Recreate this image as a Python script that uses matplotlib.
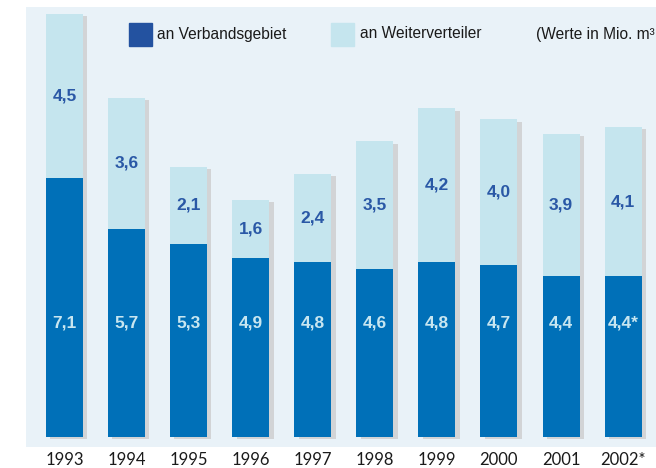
import matplotlib
matplotlib.use("Agg")
import matplotlib.pyplot as plt
from matplotlib.patches import Rectangle
from matplotlib import font_manager

# data (Mio. m3)
years = ["1993", "1994", "1995", "1996", "1997", "1998", "1999", "2000", "2001", "2002*"]
verbandsgebiet = [7.1, 5.7, 5.3, 4.9, 4.8, 4.6, 4.8, 4.7, 4.4, 4.4]
weiterverteiler = [4.5, 3.6, 2.1, 1.6, 2.4, 3.5, 4.2, 4.0, 3.9, 4.1]
dark_labels = ["7,1", "5,7", "5,3", "4,9", "4,8", "4,6", "4,8", "4,7", "4,4", "4,4*"]
light_labels = ["4,5", "3,6", "2,1", "1,6", "2,4", "3,5", "4,2", "4,0", "3,9", "4,1"]

dark = "#0070b8"
light = "#c5e5ee"
bg = "#e9f2f8"
shadow = "#d2d4d6"
legend_dark = "#2352a0"
label_blue = "#2a58a6"
label_light = "#c8e6f0"

names = {f.name for f in font_manager.fontManager.ttflist}
narrow = "Liberation Sans Narrow" if "Liberation Sans Narrow" in names else "Liberation Sans"

W, H = 656, 468
fig = plt.figure(figsize=(W / 100, H / 100), dpi=100)
fig.patch.set_facecolor("white")

# plot area = light background rectangle
ax = fig.add_axes([26 / W, (H - 447) / H, 1 - 26 / W, (447 - 7) / H])
ax.set_facecolor(bg)
for s in ax.spines.values():
    s.set_visible(False)

x = list(range(len(years)))
width = 0.596
totals = [a + b for a, b in zip(verbandsgebiet, weiterverteiler)]

# drop shadow
ax.bar([i + 0.07 for i in x], totals, width, bottom=-0.06, color=shadow, zorder=1)
ax.bar(x, verbandsgebiet, width, color=dark, zorder=2)
ax.bar(x, weiterverteiler, width, bottom=verbandsgebiet, color=light, zorder=2)

for i in x:
    ax.text(i, 3.12, dark_labels[i], ha="center", va="center", color=label_light,
            fontsize=12.5, fontweight="bold", family=narrow, zorder=3)
    ax.text(i, verbandsgebiet[i] + weiterverteiler[i] / 2, light_labels[i], ha="center",
            va="center", color=label_blue, fontsize=12.5, fontweight="bold",
            family=narrow, zorder=3)

ax.set_xlim(-0.62, 9.53)
ax.set_ylim(-0.274, 11.78)
ax.set_yticks([])
ax.set_xticks([])

# year labels below plot area
for i in x:
    px = 64.5 + 62.06 * i
    fig.text(px / W, (H - 460) / H, years[i], ha="center", va="center",
             fontsize=12, family="Lato", color="#1a1a1a")

# legend
fig.patches.append(Rectangle((129 / W, (H - 46) / H), 23 / W, 23 / H,
                             transform=fig.transFigure, color=legend_dark))
fig.patches.append(Rectangle((331 / W, (H - 46) / H), 23 / W, 23 / H,
                             transform=fig.transFigure, color=light))
fig.text(157 / W, (H - 34) / H, "an Verbandsgebiet", ha="left", va="center",
         fontsize=11.2, family=narrow, color="#1a1a1a")
fig.text(360 / W, (H - 34) / H, "an Weiterverteiler", ha="left", va="center",
         fontsize=11.2, family=narrow, color="#1a1a1a")
# reference cuts this note off at the right edge
fig.text(536 / W, (H - 34) / H, "(Werte in Mio. m³", ha="left", va="center",
         fontsize=11.2, family=narrow, color="#1a1a1a")

fig.savefig("out.png", dpi=100)
